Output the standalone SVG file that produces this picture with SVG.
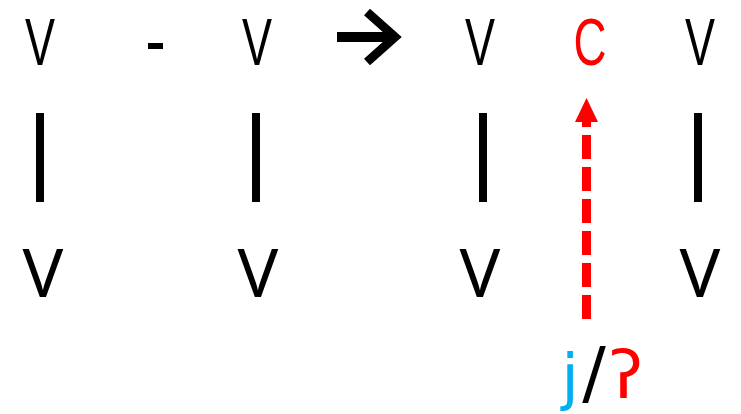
<svg xmlns="http://www.w3.org/2000/svg" width="741" height="414" viewBox="0 0 741 414">
<style>
text{font-family:"Noto Sans","Open Sans","DejaVu Sans",sans-serif;text-anchor:middle}
.top{font-family:"Liberation Sans",Arial,sans-serif;font-size:66px;fill:#000}
.bot{font-size:68px;fill:#000}
.lbl{font-family:"DejaVu Sans",sans-serif}
.red{fill:#FF0000}
.blue{fill:#00B0F0}
.blk{fill:#000}
.bar{stroke:#000;stroke-width:8}
</style>
<rect width="741" height="414" fill="#fff"/>
<g id="top-row">
<g id="v1"><text class="top" x="40" y="65" textLength="30" lengthAdjust="spacingAndGlyphs">V</text></g>
<g id="dash"><rect x="148" y="43" width="15" height="6" fill="#000"/></g>
<g id="v2"><text class="top" x="257" y="65" textLength="30" lengthAdjust="spacingAndGlyphs">V</text></g>
<g id="arrow-sym"><path d="M337,37 H392" stroke="#000" stroke-width="10" fill="none"/><path d="M367,12 L395,37 L367,62" stroke="#000" stroke-width="9" fill="none" stroke-linejoin="miter"/></g>
<g id="v3"><text class="top" x="480" y="65" textLength="30" lengthAdjust="spacingAndGlyphs">V</text></g>
<g id="c"><text class="top red" x="590" y="65" textLength="33" lengthAdjust="spacingAndGlyphs">C</text></g>
<g id="v4"><text class="top" x="700" y="65" textLength="30" lengthAdjust="spacingAndGlyphs">V</text></g>
</g>
<g id="connectors">
<line class="bar" x1="40" y1="113" x2="40" y2="202"/>
<line class="bar" x1="256" y1="113" x2="256" y2="202"/>
<line class="bar" x1="483" y1="113" x2="483" y2="202"/>
<line class="bar" x1="698" y1="113" x2="698" y2="202"/>
<line x1="586.5" y1="319" x2="586.5" y2="120" stroke="#FF0000" stroke-width="9" stroke-dasharray="24 8"/>
<polygon points="586.5,98 598,122 575,122" fill="#FF0000"/>
</g>
<g id="bottom-row">
<g id="b1"><text class="bot" x="43" y="297">V</text></g>
<g id="b2"><text class="bot" x="258" y="297">V</text></g>
<g id="b3"><text class="bot" x="480" y="297">V</text></g>
<g id="b4"><text class="bot" x="700" y="297">V</text></g>
</g>
<g id="label">
<text class="lbl blue" x="570" y="398" font-size="62">j</text>
<text class="lbl blk" x="594" y="397" font-size="70">/</text>
<text class="lbl red" x="626" y="398" font-size="66">ʔ</text>
</g>
</svg>
